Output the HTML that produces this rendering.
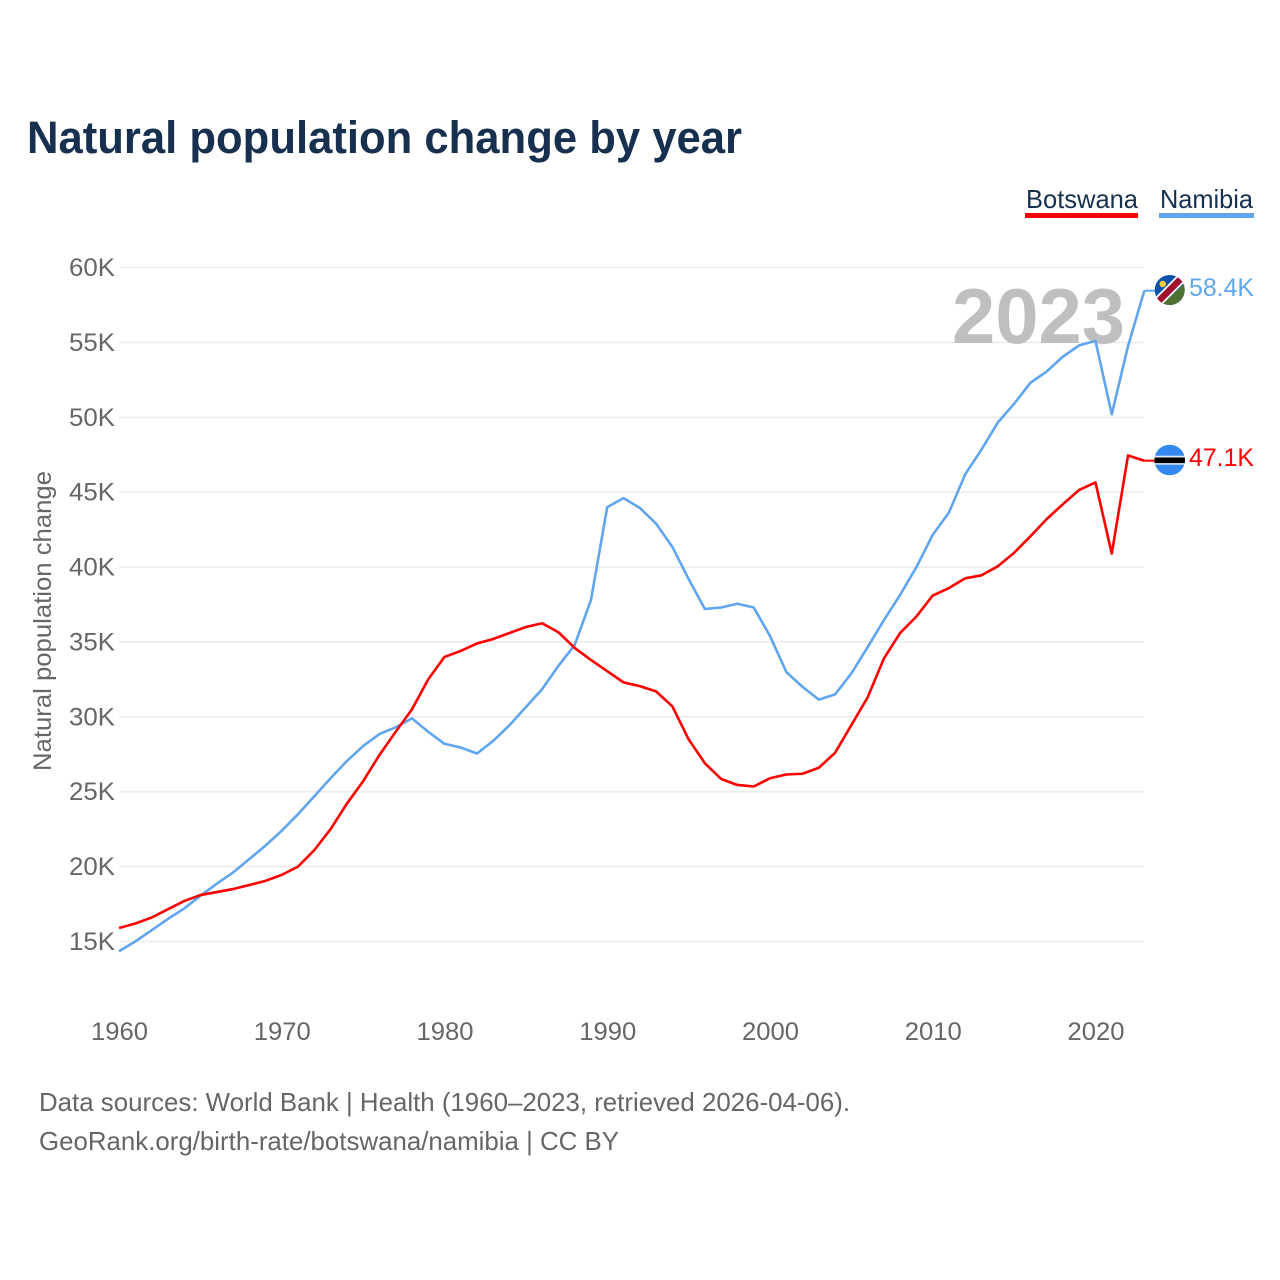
<!DOCTYPE html>
<html lang="en">
<head>
<meta charset="utf-8">
<title>Natural population change by year</title>
<style>
html,body{margin:0;padding:0;background:#fff;}
svg{display:block;font-family:"Liberation Sans",sans-serif;}
</style>
</head>
<body>
<svg id="chart" xmlns="http://www.w3.org/2000/svg" width="1280" height="1280" viewBox="0 0 1280 1280">
  <rect x="0" y="0" width="1280" height="1280" fill="#ffffff"/>
  <text x="27" y="153" font-size="45" font-weight="700" fill="#17304f" textLength="715" lengthAdjust="spacingAndGlyphs">Natural population change by year</text>

  <g>
    <text x="1026" y="208" font-size="26" fill="#17304f" textLength="112" lengthAdjust="spacingAndGlyphs">Botswana</text>
    <rect x="1025" y="213" width="113" height="5" fill="#ff0000"/>
  </g>
  <g>
    <text x="1160" y="208" font-size="26" fill="#17304f" textLength="93" lengthAdjust="spacingAndGlyphs">Namibia</text>
    <rect x="1159" y="213" width="95" height="5" fill="#60a5ee"/>
  </g>

  <g id="grid"></g>
  <g id="yticks"></g>
  <g id="xticks"></g>

  <text transform="translate(51,621) rotate(-90)" text-anchor="middle" font-size="25" fill="#666666" textLength="300" lengthAdjust="spacingAndGlyphs">Natural population change</text>

  <text x="952" y="343" font-size="78" font-weight="700" fill="#bfbfbf" textLength="173" lengthAdjust="spacingAndGlyphs">2023</text>

  <g id="series"></g>

  <g>
    <clipPath id="clipNa"><circle cx="1169.7" cy="290" r="15"/></clipPath>
    <g clip-path="url(#clipNa)">
      <rect x="1154" y="274" width="32" height="32" fill="#0a52ab"/>
      <polygon points="1186,282 1186,306 1160,306" fill="#4d6f2f"/>
      <line x1="1149.7" y1="310" x2="1189.7" y2="270" stroke="#ffffff" stroke-width="10"/>
      <line x1="1149.7" y1="310" x2="1189.7" y2="270" stroke="#a0102f" stroke-width="6.5"/>
      <circle cx="1162.7" cy="284" r="3.2" fill="#ffce3a"/>
    </g>
  </g>
  <g>
    <clipPath id="clipBw"><circle cx="1169.7" cy="460" r="15.3"/></clipPath>
    <g clip-path="url(#clipBw)">
      <rect x="1154" y="444" width="32" height="32" fill="#3388f2"/>
      <rect x="1154" y="455.7" width="32" height="9" fill="#dfe8f0"/>
      <rect x="1154" y="457.5" width="32" height="5.6" fill="#000000"/>
    </g>
  </g>

  <text id="labelNa" x="1189" y="296" font-size="25" fill="#60a5ee" textLength="65" lengthAdjust="spacingAndGlyphs"></text>
  <text id="labelBw" x="1189" y="466" font-size="25" fill="#ff0000" textLength="65" lengthAdjust="spacingAndGlyphs"></text>

  <text x="39" y="1111" font-size="26" fill="#666666" textLength="811" lengthAdjust="spacingAndGlyphs">Data sources: World Bank | Health (1960–2023, retrieved 2026-04-06).</text>
  <text x="39" y="1150" font-size="26" fill="#666666" textLength="580" lengthAdjust="spacingAndGlyphs">GeoRank.org/birth-rate/botswana/namibia | CC BY</text>
</svg>
<script>
const firstYear = 1960;
const xTickYears = [1960, 1970, 1980, 1990, 2000, 2010, 2020];
const yTickValues = [15, 20, 25, 30, 35, 40, 45, 50, 55, 60];
const botswanaValues = [15.9,16.2,16.6,17.15,17.7,18.1,18.3,18.5,18.77,19.05,19.45,20.0,21.1,22.5,24.2,25.7,27.45,29.0,30.5,32.5,34.0,34.4,34.9,35.2,35.6,36.0,36.25,35.65,34.6,33.8,33.05,32.3,32.05,31.7,30.7,28.5,26.9,25.85,25.45,25.35,25.9,26.15,26.2,26.6,27.6,29.45,31.3,33.9,35.6,36.7,38.1,38.6,39.25,39.45,40.05,40.95,42.05,43.2,44.2,45.15,45.65,40.9,47.45,47.1];
const namibiaValues = [14.35,15.0,15.75,16.5,17.2,18.05,18.85,19.6,20.5,21.4,22.4,23.5,24.7,25.9,27.05,28.05,28.85,29.3,29.9,29.0,28.2,27.95,27.55,28.4,29.45,30.65,31.85,33.4,34.8,37.8,44.0,44.6,43.95,42.9,41.35,39.2,37.2,37.3,37.55,37.3,35.4,33.0,32.0,31.15,31.5,32.9,34.65,36.45,38.15,40.0,42.15,43.65,46.2,47.85,49.65,50.9,52.3,53.05,54.05,54.8,55.1,50.2,54.75,58.45];
const botswanaLabel = "47.1K";
const namibiaLabel = "58.4K";

const NS = "http://www.w3.org/2000/svg";
function xScale(year){ return 119 + (year - 1960) * (1144.3 - 119) / 63; }
function yScale(v){ return 941.5 - (v - 15) * (941.5 - 267.5) / 45; }
function linePath(values){
  return values.map(function(v,i){
    return (i ? "L" : "M") + xScale(firstYear + i).toFixed(2) + " " + yScale(v).toFixed(2);
  }).join(" ");
}
const grid = document.getElementById("grid");
const yticks = document.getElementById("yticks");
const xticks = document.getElementById("xticks");
const series = document.getElementById("series");

yTickValues.forEach(function(v){
  const l = document.createElementNS(NS, "line");
  
  
  l.setAttribute("x1", 119);
  l.setAttribute("x2", 1144);
  l.setAttribute("y1", yScale(v));
  l.setAttribute("y2", yScale(v));
  l.setAttribute("stroke", "#ececec");
  l.setAttribute("stroke-width", "1.6");
  grid.appendChild(l);
  const t = document.createElementNS(NS, "text");
  
  
  t.setAttribute("x", 115);
  t.setAttribute("y", yScale(v) + 8.5);
  t.setAttribute("text-anchor", "end");
  t.setAttribute("font-size", "25");
  t.setAttribute("fill", "#666666");
  t.setAttribute("textLength", "46");
  t.setAttribute("lengthAdjust", "spacingAndGlyphs");
  t.textContent = v + "K";
  yticks.appendChild(t);
});
xTickYears.forEach(function(y){
  const t = document.createElementNS(NS, "text");
  
  
  t.setAttribute("x", xScale(y) + 0.5);
  t.setAttribute("y", 1040);
  t.setAttribute("text-anchor", "middle");
  t.setAttribute("font-size", "25");
  t.setAttribute("fill", "#666666");
  t.setAttribute("textLength", "57");
  t.setAttribute("lengthAdjust", "spacingAndGlyphs");
  t.textContent = y;
  xticks.appendChild(t);
});
function addSeries(values, color, name, connectorName){
  const p = document.createElementNS(NS, "path");
  
  
  p.setAttribute("d", linePath(values));
  p.setAttribute("fill", "none");
  p.setAttribute("stroke", color);
  p.setAttribute("stroke-width", "2.6");
  p.setAttribute("stroke-linejoin", "round");
  series.appendChild(p);
  const c = document.createElementNS(NS, "line");
  
  
  const yEnd = yScale(values[values.length - 1]);
  c.setAttribute("x1", xScale(firstYear + values.length - 1));
  c.setAttribute("x2", 1156);
  c.setAttribute("y1", yEnd);
  c.setAttribute("y2", yEnd);
  c.setAttribute("stroke", color);
  c.setAttribute("stroke-width", "2");
  series.appendChild(c);
}
addSeries(namibiaValues, "#60a5ee", "line-namibia", "connector-namibia");
addSeries(botswanaValues, "#ff0000", "line-botswana", "connector-botswana");
document.getElementById("labelNa").textContent = namibiaLabel;
document.getElementById("labelBw").textContent = botswanaLabel;
</script>
</body>
</html>
